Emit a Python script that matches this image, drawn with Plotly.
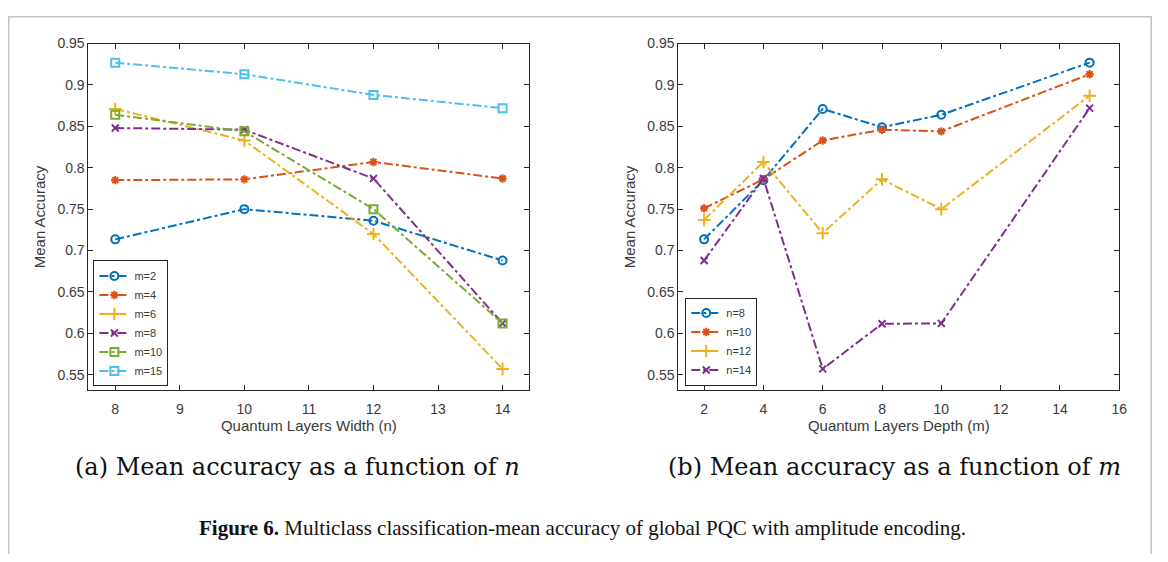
import plotly.graph_objects as go

# ---------------- data ----------------
widths_n = [8, 10, 12, 14]
depths_m = [2, 4, 6, 8, 10, 15]

# left panel: accuracy vs width n, one series per depth m
acc_m2 = [0.7135, 0.750, 0.736, 0.688]
acc_m4 = [0.785, 0.786, 0.807, 0.787]
acc_m6 = [0.871, 0.833, 0.720, 0.557]
acc_m8 = [0.848, 0.846, 0.787, 0.612]
acc_m10 = [0.864, 0.844, 0.750, 0.612]
acc_m15 = [0.927, 0.913, 0.888, 0.872]

# right panel: accuracy vs depth m, one series per width n
acc_n8 = [0.7135, 0.785, 0.871, 0.849, 0.864, 0.927]
acc_n10 = [0.751, 0.786, 0.833, 0.846, 0.844, 0.913]
acc_n12 = [0.737, 0.807, 0.721, 0.786, 0.750, 0.887]
acc_n14 = [0.688, 0.787, 0.557, 0.6115, 0.612, 0.872]

left_names = ["m=2", "m=4", "m=6", "m=8", "m=10", "m=15"]
right_names = ["n=8", "n=10", "n=12", "n=14"]

y_tickvals = [0.55, 0.6, 0.65, 0.7, 0.75, 0.8, 0.85, 0.9, 0.95]
y_ticktext = ["0.55", "0.6", "0.65", "0.7", "0.75", "0.8", "0.85", "0.9", "0.95"]

# ---------------- styles ----------------
colors = ["#0072BD", "#D95319", "#EDB120", "#7E2F8E", "#77AC30", "#4DBEEE"]
symbols = ["circle-open", "asterisk-open", "cross-thin-open", "x-thin-open",
           "square-open", "square-open"]
msizes = [8, 7, 9, 7, 8, 8]
FONT = "Liberation Sans, Arial, sans-serif"
AX = "#262626"
TXT = "#3a3a3a"

fig = go.Figure()

left_series = [acc_m2, acc_m4, acc_m6, acc_m8, acc_m10, acc_m15]
for i, (nm, ys) in enumerate(zip(left_names, left_series)):
    fig.add_trace(go.Scatter(
        x=widths_n, y=ys, name=nm, mode="lines+markers",
        line=dict(color=colors[i], width=2, dash="dashdot"),
        marker=dict(symbol=symbols[i], size=msizes[i], color=colors[i],
                    line=dict(color=colors[i], width=2)),
        xaxis="x", yaxis="y", legend="legend"))

right_series = [acc_n8, acc_n10, acc_n12, acc_n14]
for i, (nm, ys) in enumerate(zip(right_names, right_series)):
    fig.add_trace(go.Scatter(
        x=depths_m, y=ys, name=nm, mode="lines+markers",
        line=dict(color=colors[i], width=2, dash="dashdot"),
        marker=dict(symbol=symbols[i], size=msizes[i], color=colors[i],
                    line=dict(color=colors[i], width=2)),
        xaxis="x2", yaxis="y2", legend="legend2"))

# page has an 8px body margin: figure occupies screen px 8..1160 x 8..554
OFF = 8
W, H = 1168 - 2 * OFF, 562 - 2 * OFF
def px(x):
    return (x - OFF) / W
def py(y):
    return 1 - (y - OFF) / H

axis_common = dict(showgrid=False, zeroline=False, showline=True, linecolor=AX,
                   linewidth=1, mirror="allticks", ticks="inside", ticklen=5,
                   tickcolor=AX, tickfont=dict(family=FONT, size=14, color=TXT))
title_font = dict(family=FONT, size=15, color=TXT)

PT, PB = 36, 388

fig.update_layout(
    width=W, height=H, margin=dict(l=0, r=0, t=0, b=0),
    paper_bgcolor="white", plot_bgcolor="white",
    showlegend=True,
    xaxis=dict(domain=[px(89), px(533)], range=[7.585, 14.415],
               tickvals=[8, 9, 10, 11, 12, 13, 14], anchor="y", ticklabelstandoff=6,
               title=dict(text="Quantum Layers Width (n)", standoff=4, font=title_font),
               **axis_common),
    yaxis=dict(domain=[py(PB), py(PT)], range=[0.531, 0.95],
               tickvals=y_tickvals, ticktext=y_ticktext, anchor="x",
               title=dict(text="Mean Accuracy", standoff=8, font=title_font),
               **axis_common),
    xaxis2=dict(domain=[px(683), px(1127)], range=[1.13, 16],
                tickvals=[2, 4, 6, 8, 10, 12, 14, 16], anchor="y2", ticklabelstandoff=6,
                title=dict(text="Quantum Layers Depth (m)", standoff=4, font=title_font),
                **axis_common),
    yaxis2=dict(domain=[py(PB), py(PT)], range=[0.531, 0.95],
                tickvals=y_tickvals, ticktext=y_ticktext, anchor="x2",
                title=dict(text="Mean Accuracy", standoff=8, font=title_font),
                **axis_common),
    legend=dict(x=px(94), y=py(PB - 4), xanchor="left", yanchor="bottom",
                bgcolor="white", bordercolor=AX, borderwidth=1,
                font=dict(family=FONT, size=11, color=TXT),
                tracegroupgap=0, itemwidth=30),
    legend2=dict(x=px(690), y=py(PB - 5), xanchor="left", yanchor="bottom",
                 bgcolor="white", bordercolor=AX, borderwidth=1,
                 font=dict(family=FONT, size=11, color=TXT),
                 tracegroupgap=0, itemwidth=30),
)

# figure frame (left and top edges visible in the reference)
fig.add_shape(type="rect", xref="paper", yref="paper",
              x0=px(8.7), x1=px(1159.2), y0=-0.3, y1=py(8.7),
              line=dict(color="#c4c4c4", width=1.5), fillcolor="rgba(0,0,0,0)",
              layer="below")

SERIF = "DejaVu Serif, serif"
fig.add_annotation(xref="paper", yref="paper", x=px(300), y=py(466),
                   text="(a) Mean accuracy as a function of <i>n</i>",
                   showarrow=False, xanchor="center", yanchor="middle",
                   font=dict(family=SERIF, size=24, color="#111111"))
fig.add_annotation(xref="paper", yref="paper", x=px(901), y=py(466),
                   text="(b) Mean accuracy as a function of <i>m</i>",
                   showarrow=False, xanchor="center", yanchor="middle",
                   font=dict(family=SERIF, size=24, color="#111111"))
fig.add_annotation(xref="paper", yref="paper", x=px(587), y=py(528),
                   text="<b>Figure 6.</b> Multiclass classification-mean accuracy of global PQC with amplitude encoding.",
                   showarrow=False, xanchor="center", yanchor="middle",
                   font=dict(family="Liberation Serif, serif", size=21, color="#111111"))

fig.write_html("out.html")
